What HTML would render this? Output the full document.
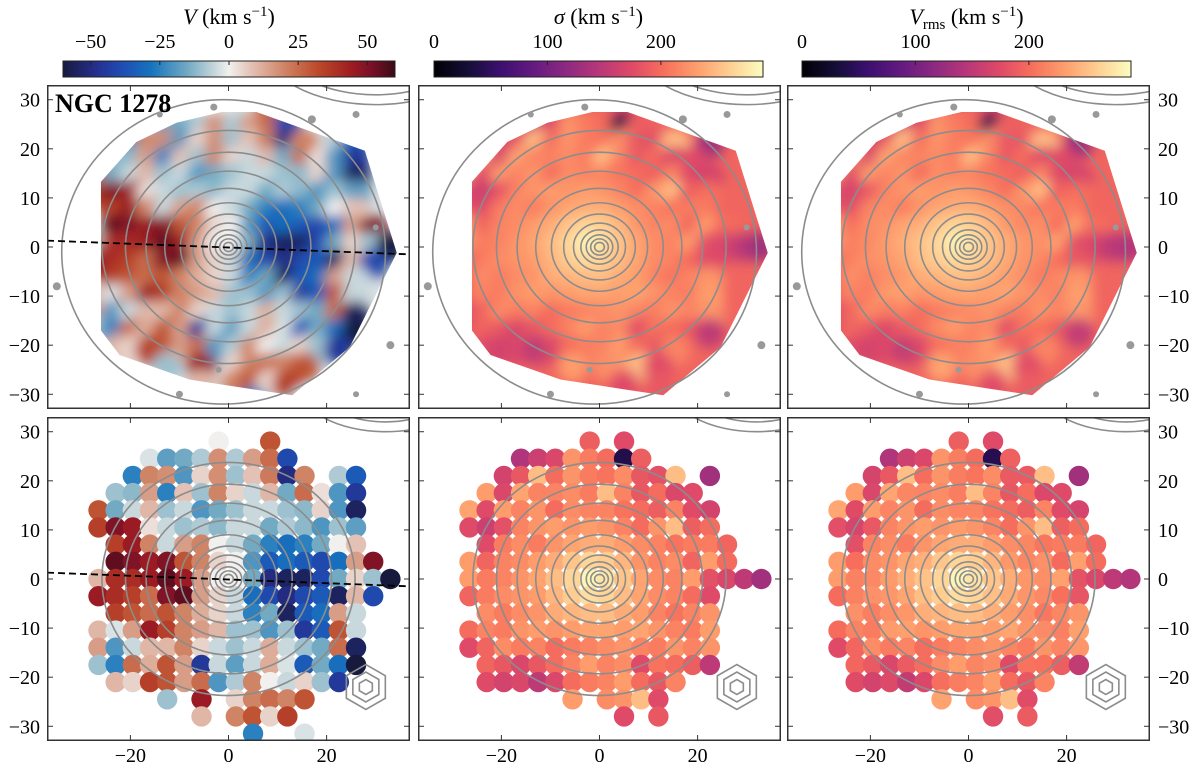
<!DOCTYPE html>
<html><head><meta charset="utf-8"><style>
html,body{margin:0;padding:0;background:#fff;overflow:hidden;width:1200px;height:770px;}
svg{display:block;}
svg text{font-family:"Liberation Serif",serif;fill:#000;}
</style></head><body>
<svg id="fig" xmlns="http://www.w3.org/2000/svg" width="1200" height="770" viewBox="0 0 1200 770"></svg>
<script>
const n = null;
// bin grid columns (arcsec) and rows
const binX = [-26.5,-23,-19.5,-16,-12.5,-9,-5.5,-2,1.5,5,8.5,12,15.5,19,22.5,26,29.5,33];
const binY = [28,24.5,21,17.5,14,10.5,7,3.5,0,-3.5,-7,-10.5,-14,-17.5,-21,-24.5,-28,-31.5];
// velocity values per row (km/s)
const vRows = [
[n,n,n,n,n,n,n,0,n,n,30,n,n,n,n,n,n,n],
[n,n,n,-3,-18,-15,-8,18,-8,15,25,-40,n,n,n,n,n,n],
[n,n,-25,20,18,-20,5,18,-10,8,22,-50,20,n,-8,-35,n,n],
[n,-10,-12,15,-25,8,-10,20,5,-5,10,-15,25,3,-20,-45,n,n],
[30,-15,-5,10,-10,-5,-20,-15,-10,-5,-5,-10,-12,5,-20,-55,n,n],
[35,50,45,3,-5,-10,-8,-12,-5,-5,-15,-8,-12,-20,-10,-18,n,n],
[n,35,45,20,-5,15,20,0,-5,-15,-25,-30,-25,-15,0,8,n,n],
[n,55,50,45,50,30,20,5,0,-20,-35,-30,-35,-40,-30,15,50,n],
[10,40,40,45,55,45,15,0,0,-15,-50,-55,-55,-40,-15,5,-10,-60],
[45,40,35,25,50,55,15,5,-5,-30,-40,-50,-40,-35,-55,10,-40,n],
[n,35,30,25,30,20,12,5,-5,-25,-15,-55,-35,-30,15,-5,n,n],
[10,-3,15,45,35,20,15,10,-10,-10,-20,-10,-45,-35,30,-5,n,n],
[15,-20,-5,10,10,20,5,-5,-10,-5,12,-5,-10,-15,25,-55,n,n],
[-10,-25,25,12,30,15,-45,-5,-18,-5,12,-3,-35,-15,-30,-60,n,n],
[n,10,5,35,30,15,25,-20,-8,20,0,-5,5,-10,-45,n,n,n],
[n,n,n,n,-10,n,45,n,5,20,25,20,30,n,n,n,n,n],
[n,n,n,n,n,n,10,n,20,30,5,35,n,n,n,n,n,n],
[n,n,n,n,n,n,n,n,n,-25,n,n,-3,n,n,n,n,n]];
// dispersion values per row (km/s)
const sRows = [
[n,n,n,n,n,n,n,190,n,175,n,n,n,n,n,n,n,n],
[n,n,n,140,160,170,225,210,200,40,190,n,n,n,n,n,n,n],
[n,n,165,185,250,200,225,210,205,220,185,180,250,n,130,n,n,n],
[n,230,170,235,215,215,220,210,250,215,185,200,170,175,n,n,n,n],
[235,175,230,215,225,200,220,215,215,205,200,190,215,175,165,n,n,n],
[175,160,180,215,225,230,225,230,225,215,200,225,250,190,200,n,n,n],
[n,175,210,220,210,225,235,240,240,230,220,215,205,210,210,195,n,n],
[230,195,215,220,230,240,255,265,260,245,225,215,220,195,230,200,n,n],
[230,210,215,225,235,250,265,285,275,255,235,220,215,230,180,170,150,130],
[195,210,220,225,230,245,260,270,265,250,235,220,215,200,175,n,n,n],
[n,220,210,220,225,240,245,250,250,240,230,215,205,215,225,n,n,n],
[200,215,210,225,230,225,230,235,235,230,235,225,215,210,230,n,n,n],
[175,195,220,210,215,200,210,215,220,225,215,210,225,215,225,n,n,n],
[n,195,185,170,185,200,215,230,215,220,175,205,200,190,150,n,n,n],
[n,175,165,170,150,170,200,210,215,230,200,185,215,n,n,n,n,n],
[n,n,n,n,n,n,230,n,220,225,250,175,n,n,n,n,n,n],
[n,n,n,n,n,n,n,n,n,175,n,185,n,n,n,n,n,n],
[n,n,n,n,n,n,n,n,n,n,n,n,n,n,n,n,n,n]];
const xTicks = [-20,0,20];
const yTicks = [-30,-20,-10,0,10,20,30];
const vCbTicks = [-50,-25,0,25,50];
const sCbTicks = [0,100,200];
// interpolated map outline (arcsec)
const hullX = [-26,-18.8,-10.6,-1.4,5.7,27.8,34.3,24.7,13,-8,-22.2,-26];
const hullY = [13.3,21.4,25.3,27.5,27.5,19.6,-1.2,-20.4,-30.2,-27,-22,-17];
const contourR = [1,1.8,2.7,3.8,5.3,7.3,9.8,13,16.8,21,25.8];

const NS = "http://www.w3.org/2000/svg";
const fig = document.getElementById('fig');
function mk(tag, attrs, parent){const e=document.createElementNS(NS,tag);for(const k in attrs)e.setAttribute(k,attrs[k]);(parent||fig).appendChild(e);return e;}
function hex2rgb(h){return [parseInt(h.substr(1,2),16),parseInt(h.substr(3,2),16),parseInt(h.substr(5,2),16)];}
function interp(stops,v){
  if(v<=stops[0][0])return stops[0][1];
  for(let i=1;i<stops.length;i++){if(v<=stops[i][0]){const a=stops[i-1],b=stops[i];const t=(v-a[0])/(b[0]-a[0]);const ca=hex2rgb(a[1]),cb=hex2rgb(b[1]);return 'rgb('+ca.map((c,j)=>Math.round(c+(cb[j]-c)*t)).join(',')+')';}}
  return stops[stops.length-1][1];
}
const vStops=[[-60,'#171a3c'],[-48,'#252f8f'],[-38,'#1f4fb5'],[-28,'#1674be'],[-15,'#72aac3'],[-6,'#c0d3d9'],[0,'#f1f0ef'],[8,'#e3c1b4'],[20,'#d08466'],[32,'#bc4a2a'],[44,'#9f1d22'],[52,'#751027'],[60,'#3a0b15']];
const mag=['#000004','#140e36','#3b0f70','#641a80','#8c2981','#b73779','#de4968','#f7705c','#fe9f6d','#fecf92','#fcfdbf'];
const sStops=mag.map((c,i)=>[i*29,c]);

const defs=mk('defs',{});
function grad(id,stops,lo,hi){const g=mk('linearGradient',{id:id,x1:0,x2:1,y1:0,y2:0},defs);stops.forEach(s=>mk('stop',{offset:((s[0]-lo)/(hi-lo)),'stop-color':s[1]},g));}
grad('gv',vStops,-60,60);grad('gs',sStops,0,290);
const blur=mk('filter',{id:'bl',x:'-20%',y:'-20%',width:'140%',height:'140%'},defs);
mk('feGaussianBlur',{stdDeviation:6},blur);

const W=363,H=324, PX=[47,418,787], PY=[85,417];
const sx=u=>W/2+u*W/74, sy=v=>H/2-v*H/66;

function valueAt(kind,i,j){
  const v=vRows[j][i], s=sRows[j][i];
  if(kind==='v')return v;
  if(kind==='s')return s;
  if(s===null)return null;
  return Math.sqrt((v||0)*(v||0)+s*s);
}
const kinds=['v','s','r'];
const names=['velocity','dispersion','vrms'];

for(let r=0;r<2;r++)for(let c=0;c<3;c++){
  const kind=kinds[c];
  const stops=kind==='v'?vStops:sStops;
  const p=mk('svg',{x:PX[c],y:PY[r],width:W,height:H,viewBox:`0 0 ${W} ${H}`,overflow:'hidden'});
  
  
  if(r===0){
    const cid='clip'+c;
    const cp=mk('clipPath',{id:cid},defs);
    const pts=hullX.map((x,k)=>sx(x)+','+sy(hullY[k])).join(' ');
    mk('polygon',{points:pts},cp);
    const g=mk('g',{'clip-path':`url(#${cid})`},p);
    
    
    mk('polygon',{points:pts,fill:kind==='v'?'#d9dfe2':interp(stops,195)},g);
    const gb=mk('g',{filter:'url(#bl)'},g);
    for(let j=0;j<binY.length;j++)for(let i=0;i<binX.length;i++){
      const val=valueAt(kind,i,j); if(val===null)continue;
      mk('circle',{cx:sx(binX[i]),cy:sy(binY[j]),r:15,fill:interp(stops,val)},gb);
    }
  } else {
    for(let j=0;j<binY.length;j++)for(let i=0;i<binX.length;i++){
      const val=valueAt(kind,i,j); if(val===null)continue;
      const ci=mk('circle',{cx:sx(binX[i]),cy:sy(binY[j]),r:10.2,fill:interp(stops,val)},p);
      
      
    }
  }
  // contours
  const cg=mk('g',{fill:'none',stroke:'#8c8c8c','stroke-width':1.6},p);
  
  
  contourR.forEach(R=>mk('ellipse',{cx:sx(0),cy:sy(0),rx:R*W/74,ry:R*0.92*H/66},cg));
  if(r===0){
    mk('ellipse',{cx:sx(-1),cy:sy(-1),rx:33*W/74,ry:31*H/66},cg);
    [5,7,9,11,13].forEach(R=>mk('ellipse',{cx:sx(30),cy:sy(42),rx:R*1.8*W/74,ry:R*H/66},cg));
  } else {
    [4,6,8,10].forEach(R=>mk('ellipse',{cx:sx(32),cy:sy(40),rx:R*1.8*W/74,ry:R*H/66},cg));
    [1.5,3,4.5].forEach(R=>{const pts=[];for(let k=0;k<6;k++){const a=Math.PI/6+k*Math.PI/3;pts.push((sx(28)+R*5*Math.cos(a))+','+(sy(-22)+R*5*Math.sin(a)));}mk('polygon',{points:pts.join(' ')},cg);});
    [5,7].forEach(R=>mk('circle',{cx:sx(42),cy:sy(-40),r:R*W/74},cg));
  }
  if(r===0){
    const dg=mk('g',{fill:'#999'},p);
    
    
    [[-14,27,3],[-3,28.5,3.5],[17,26,4],[26,27,3.5],[-35,-8,4],[26,-30,3],[33,-20,4],[-10,-30,3.5],[-38,5,4],[30,4,3],[-2,-25,3]].forEach(d=>mk('circle',{cx:sx(d[0]),cy:sy(d[1]),r:d[2]},dg));
  }
  if(kind==='v'){
    const l=mk('line',{x1:sx(-37),y1:sy(1.3),x2:sx(37),y2:sy(-1.5),stroke:'#000','stroke-width':1.8,'stroke-dasharray':'7,4'},p);
    
    
  }
  // frame & ticks
  const fr=mk('rect',{x:0.75,y:0.75,width:W-1.5,height:H-1.5,fill:'none',stroke:'#333','stroke-width':1.5},p);
  
  
  xTicks.forEach(t=>{mk('line',{x1:sx(t),x2:sx(t),y1:0,y2:6,stroke:'#333'},p);mk('line',{x1:sx(t),x2:sx(t),y1:H,y2:H-6,stroke:'#333'},p);});
  yTicks.forEach(t=>{mk('line',{x1:0,x2:6,y1:sy(t),y2:sy(t),stroke:'#333'},p);mk('line',{x1:W,x2:W-6,y1:sy(t),y2:sy(t),stroke:'#333'},p);});
  // labels
  if(c===0) yTicks.forEach(t=>{const tx=mk('text',{x:PX[0]-7,y:PY[r]+sy(t)+7,'text-anchor':'end','font-size':20});tx.textContent=(t<0?'\u2212':'')+Math.abs(t);});
  if(c===2) yTicks.forEach(t=>{const tx=mk('text',{x:PX[2]+W+8,y:PY[r]+sy(t)+7,'text-anchor':'start','font-size':20});tx.textContent=(t<0?'\u2212':'')+Math.abs(t);});
  if(r===1) xTicks.forEach(t=>{const tx=mk('text',{x:PX[c]+sx(t),y:762,'text-anchor':'middle','font-size':20});tx.textContent=(t<0?'\u2212':'')+Math.abs(t);});
}
const gl=mk('text',{x:55,y:112,'font-size':26,'font-weight':'bold'});
gl.textContent='NGC 1278';



// colorbars
function cbar(x0,x1,gid,lo,hi,ticks,name,titleHtml){
  const g=mk('g',{});
  
  
  mk('rect',{x:x0,y:61,width:x1-x0,height:16,fill:`url(#${gid})`,stroke:'#222','stroke-width':1},g);
  ticks.forEach(t=>{const X=x0+(t-lo)/(hi-lo)*(x1-x0);mk('line',{x1:X,x2:X,y1:61,y2:65,stroke:'#222'},g);
    const tx=mk('text',{x:X,y:48,'text-anchor':'middle','font-size':20},g);tx.textContent=(t<0?'\u2212':'')+Math.abs(t);
    
    });
  const tt=mk('text',{x:(x0+x1)/2,y:24,'text-anchor':'middle','font-size':22},g);
  tt.innerHTML=titleHtml;
  
  
}
cbar(63,395,'gv',-60,60,vCbTicks,'velocity-colorbar','<tspan font-style="italic">V</tspan> (km s<tspan dy="-8" font-size="15">\u22121</tspan><tspan dy="8">)</tspan>');
cbar(434,763,'gs',0,290,sCbTicks,'dispersion-colorbar','<tspan font-style="italic">\u03c3</tspan> (km s<tspan dy="-8" font-size="15">\u22121</tspan><tspan dy="8">)</tspan>');
cbar(802,1131,'gs',0,290,sCbTicks,'vrms-colorbar','<tspan font-style="italic">V</tspan><tspan dy="5" font-size="15">rms</tspan><tspan dy="-5"> (km s</tspan><tspan dy="-8" font-size="15">\u22121</tspan><tspan dy="8">)</tspan>');
</script>
</body></html>
